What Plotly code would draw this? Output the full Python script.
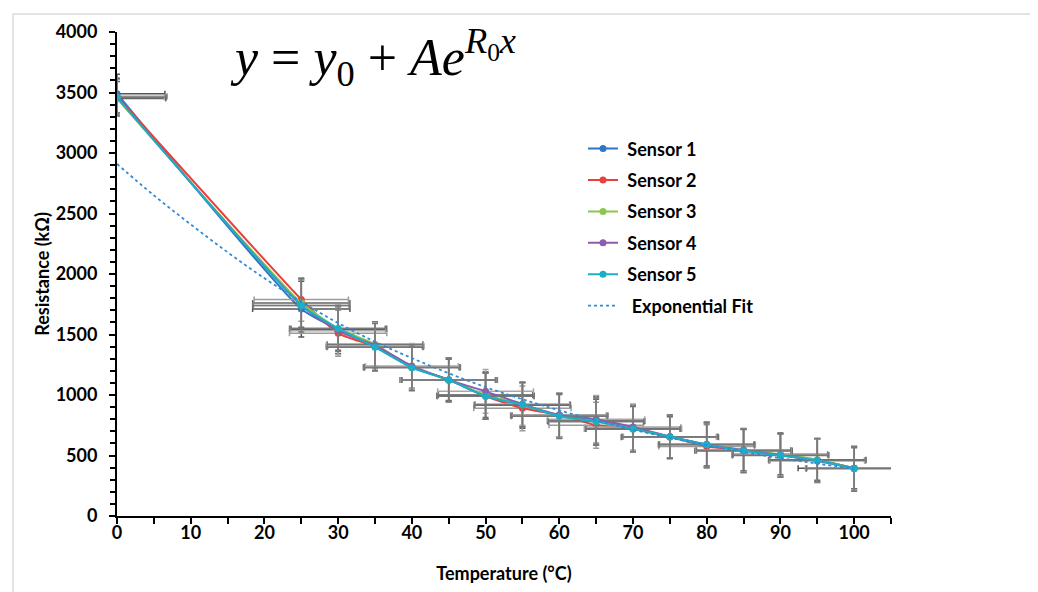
import plotly.graph_objects as go

# ---------------- data ----------------
temperature = [0, 25, 30, 35, 40, 45, 50, 55, 60, 65, 70, 75, 80, 85, 90, 95, 100]

sensor1 = [3490, 1710, 1540, 1400, 1230, 1125, 995, 915, 830, 785, 725, 655, 590, 540, 505, 460, 395]
sensor2 = [3470, 1790, 1510, 1400, 1230, 1125, 990, 890, 835, 750, 720, 655, 575, 545, 505, 460, 395]
sensor3 = [3450, 1760, 1550, 1420, 1230, 1125, 1000, 920, 830, 780, 720, 650, 590, 545, 510, 465, 395]
sensor4 = [3460, 1740, 1530, 1410, 1240, 1125, 1030, 925, 835, 800, 735, 655, 590, 545, 505, 455, 395]
sensor5 = [3460, 1740, 1550, 1395, 1225, 1125, 990, 920, 825, 780, 720, 655, 590, 540, 500, 460, 390]

# symmetric error estimates (resistance, kΩ)
yerr1 = [160, 230, 200, 200, 190, 180, 195, 190, 185, 200, 195, 180, 185, 180, 180, 180, 180]
yerr2 = [150, 180, 190, 195, 180, 175, 190, 185, 180, 190, 190, 175, 180, 175, 175, 175, 175]
yerr3 = [140, 200, 180, 185, 175, 170, 185, 180, 175, 185, 185, 170, 175, 170, 170, 170, 170]
yerr4 = [150, 210, 195, 190, 185, 180, 180, 175, 180, 195, 190, 180, 180, 180, 175, 180, 180]
yerr5 = [155, 220, 190, 195, 190, 180, 190, 185, 185, 195, 190, 180, 185, 180, 180, 180, 185]

# symmetric error estimates (temperature, °C)
xerr1 = [6.5, 6.6, 6.5, 6.6, 6.4, 6.5, 6.6, 6.5, 6.4, 6.6, 6.5, 6.5, 6.4, 6.6, 6.5, 6.5, 7.6]
xerr2 = [6.8, 6.4, 6.6, 6.4, 6.6, 6.3, 6.5, 6.6, 6.5, 6.4, 6.6, 6.3, 6.5, 6.4, 6.6, 6.4, 6.4]
xerr3 = [6.6, 6.6, 6.4, 6.5, 6.5, 6.6, 6.4, 6.5, 6.6, 6.5, 6.4, 6.6, 6.5, 6.5, 6.4, 6.6, 6.5]
xerr4 = [6.4, 6.5, 6.5, 6.6, 6.3, 6.5, 6.5, 6.4, 6.5, 6.6, 6.5, 6.4, 6.6, 6.5, 6.5, 6.5, 6.6]
xerr5 = [6.7, 6.5, 6.6, 6.5, 6.5, 6.4, 6.6, 6.5, 6.5, 6.5, 6.4, 6.5, 6.5, 6.4, 6.5, 6.6, 6.5]

fit_x = [0, 5, 10, 15, 20, 25, 30, 35, 40, 45, 50, 55, 60, 65, 70, 75, 80, 85, 90, 95, 100]
fit_y = [2910, 2650, 2410, 2180, 1965, 1770, 1595, 1440, 1305, 1180, 1065, 965, 873, 790, 714, 646, 585, 529, 478, 433, 391]

names = [" Sensor 1", " Sensor 2", " Sensor 3", " Sensor 4", " Sensor 5"]
fit_name = "  Exponential Fit"
series = [sensor1, sensor2, sensor3, sensor4, sensor5]
yerrs = [yerr1, yerr2, yerr3, yerr4, yerr5]
xerrs = [xerr1, xerr2, xerr3, xerr4, xerr5]

colors = ["#2E75C6", "#E8413C", "#8CC84B", "#8E5BAD", "#1AAFC9"]
err_colors = ["#555555", "#9a9a9a", "#666666", "#a8a8a8", "#777777"]

FONT = "Lato"

# plot-area geometry (figure coordinates; page adds an 8px body margin)
L, R, T, B = 109, 155, 21, 84
PW = 1038 - L - R
PH = 592 - T - B

def px(xf):
    return (xf - 8 - L) / PW

def py(yf):
    return (592 - B - (yf - 8)) / PH

fig = go.Figure()

for i in range(5):
    fig.add_trace(go.Scatter(
        x=temperature, y=series[i], name=names[i],
        mode="lines+markers",
        line=dict(color=colors[i], width=2, shape="spline", smoothing=0.5),
        marker=dict(color=colors[i], size=7),
        error_y=dict(type="data", array=yerrs[i], color=err_colors[i], thickness=1.5, width=3),
        error_x=dict(type="data", array=xerrs[i], color=err_colors[i], thickness=1.5, width=3),
        legendgroup=names[i],
    ))

fig.add_trace(go.Scatter(
    x=fit_x, y=fit_y, name=fit_name, mode="lines",
    line=dict(color="#2E8BD8", width=1.8, dash="dot", shape="spline"),
    legendgroup="fit",
))

fig.update_layout(
    width=1038, height=592,
    paper_bgcolor="white", plot_bgcolor="white",
    margin=dict(l=L, r=R, t=T, b=B),
    font=dict(family=FONT, size=18, color="black"),
    showlegend=True,
    legend=dict(
        x=px(583), y=py(128), xanchor="left", yanchor="top",
        font=dict(family=FONT, size=18, color="black", weight="bold"),
        tracegroupgap=5, traceorder="grouped",
        bgcolor="rgba(0,0,0,0)",
    ),
)

fig.update_xaxes(
    range=[0, 105], dtick=10, tick0=0,
    showline=True, linecolor="black", linewidth=2,
    ticks="outside", ticklen=6, tickwidth=1.5, tickcolor="black",
    minor=dict(dtick=5, ticks="outside", ticklen=6, tickwidth=1.5, tickcolor="black"),
    showgrid=False, zeroline=False,
    tickfont=dict(family=FONT, size=18, weight="bold"),
    ticklabelstandoff=-7,
    title=dict(text="Temperature (°C)", font=dict(family=FONT, size=18, weight="bold"), standoff=26),
)

fig.update_yaxes(
    range=[0, 4000], dtick=500, tick0=0,
    showline=True, linecolor="black", linewidth=2,
    ticks="outside", ticklen=6, tickwidth=1.5, tickcolor="black",
    minor=dict(dtick=100, ticks="outside", ticklen=5, tickwidth=1.5, tickcolor="black"),
    showgrid=False, zeroline=False,
    tickfont=dict(family=FONT, size=18, weight="bold"),
    ticklabelstandoff=8,
    title=dict(text="Resistance (kΩ)", font=dict(family=FONT, size=18, weight="bold"), standoff=1),
)

# equation
fig.add_annotation(
    xref="paper", yref="paper", x=px(228), y=py(55), xanchor="left", yanchor="middle",
    text="<i>y</i> = <i>y</i><sub>0</sub> + <i>Ae</i><sup><i>R</i><sub>0</sub><i>x</i></sup>",
    showarrow=False,
    font=dict(family="Liberation Serif", size=52, color="black"),
)

# outer light frame
fig.add_shape(
    type="rect", xref="paper", yref="paper",
    x0=px(13), x1=px(1035), y0=py(640), y1=py(11),
    line=dict(color="#dcdcdc", width=1.5), fillcolor="rgba(0,0,0,0)", layer="below",
)

fig.write_html("out.html")
